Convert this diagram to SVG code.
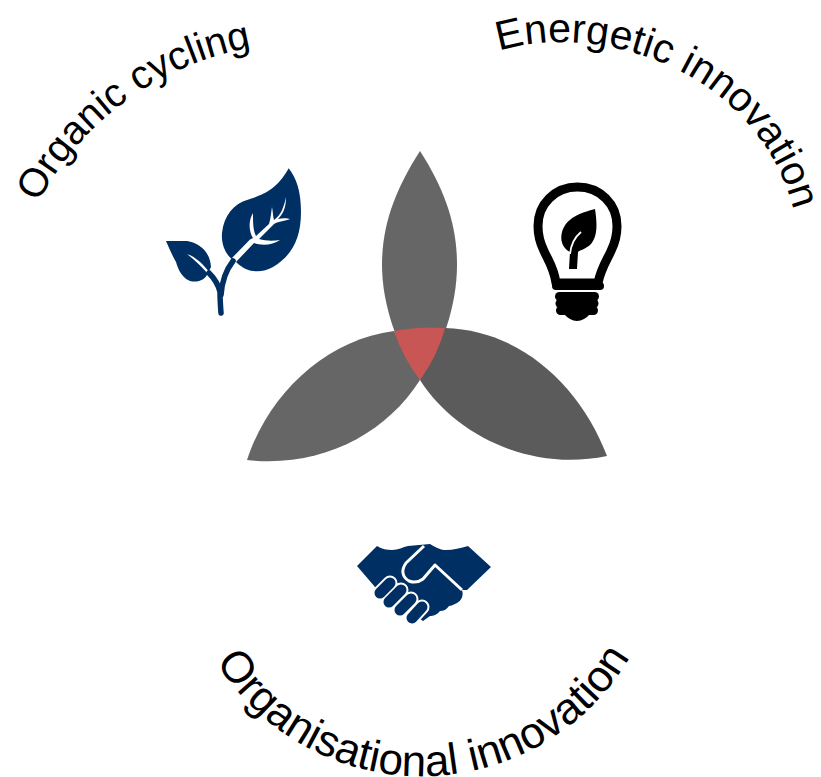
<svg xmlns="http://www.w3.org/2000/svg" width="821" height="777" viewBox="0 0 821 777">
<style>
.lbl{font-family:"Liberation Sans",Arial,sans-serif;fill:#000}
.navy{fill:#003063}
.fing{fill:none;stroke-linecap:round}
</style>
<defs>
<path id="arcA" d="M38,203 A300,300 0 0 1 280,44"/>
<path id="arcB" d="M499,51 C600,20 760,70 795,215 L805,260"/>
<path id="arcC" d="M216,662 A242,242 0 0 0 657,590"/>
</defs>
<rect width="821" height="777" fill="#fff"/>
<g id="petal-top"><path d="M420,151 C395,190 382,225 382,265 C382,305 398,350 420,380 C442,350 457,305 457,265 C457,225 445,190 420,151Z" fill="#666"/></g>
<g id="petal-left"><path d="M247,460 C268,395 325,340 394,331 L420,380 C385,435 320,468 247,460Z" fill="#666"/></g>
<g id="petal-right"><path d="M607,456 C580,385 520,330 445,328 L420,380 C455,435 530,472 607,456Z" fill="#5b5b5b"/></g>
<g id="centre"><path d="M394,331 Q420,326 445,328 Q438,355 420,380 Q403,358 394,331Z" fill="#c85654"/></g>
<g id="organic-icon">
<path class="navy" d="M288.700,168.300 C296,178 301,190 301,212 C301,240 291,256 273,267 C262,273 248,274 236,262 L233,260 C226,255 221,245 222,233 C224,215 234,204 247,200 C262,195 276,191 288.700,168.300Z"/>
<path fill="#fff" d="M232,258 L250,239.500 L253,238 C249,232 248,221 253,213 C253,222 253,230 256,236 L269,224 C271,218 271,212 272,207 C273,212 273,217 274,220 C281,215 284,207 286,197 C286,208 283,214 278,219 C282,218 287,218 290,219 C285,221 279,221 274,224 L259,239 C266,241 273,241 280,240 C273,245 262,246 254,243 L236,262Z"/>
<path class="navy" d="M166,241 L187,241 C200,243 210,252 211,267 L208,273 C205,280 198,283 190,281 C180,277 177,265 176,262 C172,255 169,248 166,241Z"/>
<path fill="#fff" d="M187,254 C196,257 204,265 209,272 L208,274 C202,267 195,260 187,254Z"/>
<path d="M221,313 C220,300 220,293 220,292 C218,283 214,278 209,273 M221,295 C222,280 226,270 233,261" fill="none" stroke="#003063" stroke-width="5.500" stroke-linecap="round"/>
</g>
<g id="energetic-icon">
<path d="M556,283 L598,283 C601,268 607,260 611,251 C615,243 617,236 617,226 C617,204 600,187 577.500,187 C555,187 538,204 538,226 C538,236 540,243 544,251 C548,260 554,268 556,283Z" fill="none" stroke="#000" stroke-width="9" stroke-linejoin="round"/>
<path d="M556,286 H600" stroke="#000" stroke-width="8" stroke-linecap="round"/>
<rect x="555" y="292" width="44" height="9" rx="4.500"/>
<rect x="555.500" y="299" width="43" height="9" rx="4.500"/>
<rect x="556" y="306" width="42" height="9" rx="4.500"/>
<path d="M563,313 H591 Q584,321 577,321 Q570,321 563,313Z"/>
<path d="M595,209 C597,222 598,236 591,244 C586,249 580,250 578,252 L577,269 L569,269 L570,252 C562,248 560,240 562,232 C566,218 580,213 595,209Z"/>
<path d="M570,254 C571,244 575,237 581,232" fill="none" stroke="#fff" stroke-width="1.800"/>
</g>
<g id="organisational-icon">
<path class="navy" d="M357,566 L377,546 C382,549 387,550 392,550 C398,550 403,547 408,546 L430,544 C437,548 441,550 446,550 C453,550 461,548 468,546 L491,567 L467,590 L462,590 C464,596 461,601 457,603 C453,605 451,606 449,606 C447,609 444,611 440,611 C437,615 433,616 430,616 L423,621 L375,587Z"/>
<path d="M424,546 L406,563 C401,570 402,577 409,581 C414,583 419,582 423,579 L435,565 L462,590" fill="none" stroke="#fff" stroke-width="3" stroke-linejoin="round"/>
<g class="fing">
<path d="M380,593 L390,583 M389,602 L401,590 M400,610 L411,599 M412,618 L422,607" stroke="#fff" stroke-width="15"/>
<path d="M380,593 L390,583 M389,602 L401,590 M400,610 L411,599 M412,618 L422,607" stroke="#003063" stroke-width="11"/>
</g>
</g>
<g id="labels">
<text class="lbl" font-size="40"><textPath href="#arcA">Organic cycling</textPath></text>
<text class="lbl" font-size="41"><textPath href="#arcB">Energetic innovation</textPath></text>
<text class="lbl" font-size="44"><textPath href="#arcC">Organisational innovation</textPath></text>
</g>
<g id="connectors"></g>
</svg>
